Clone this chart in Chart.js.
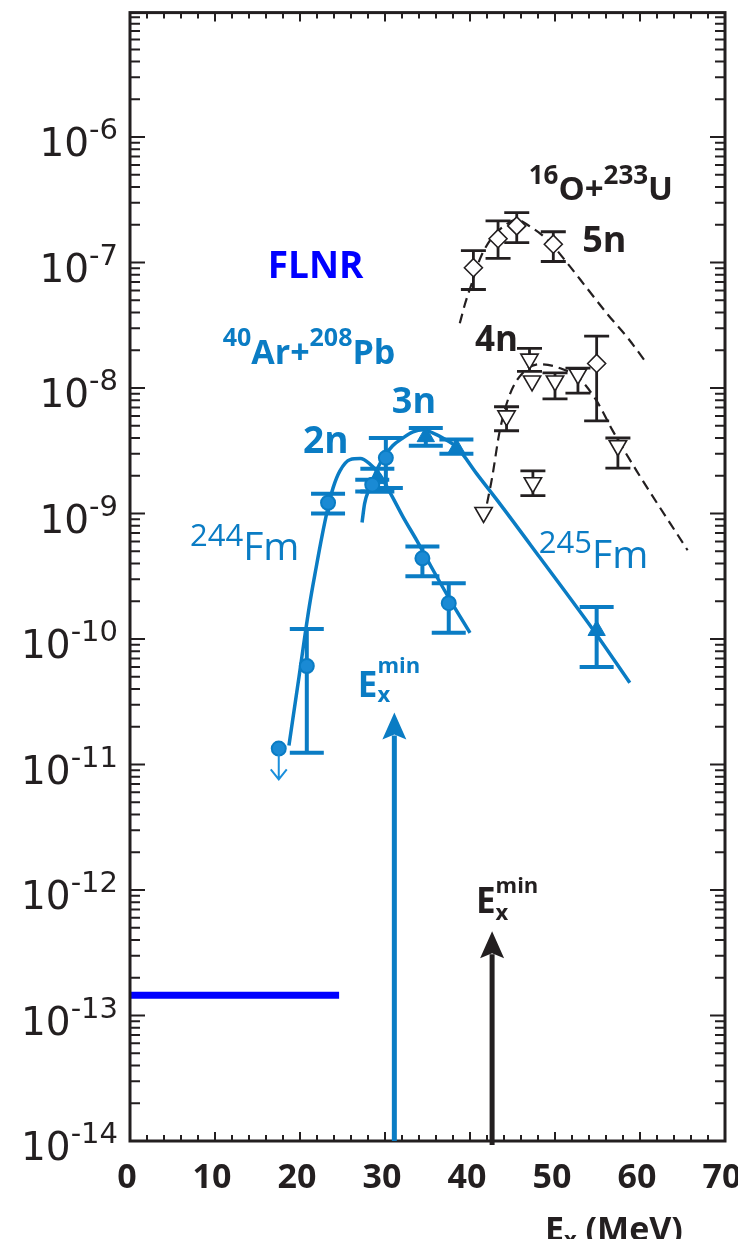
<!DOCTYPE html>
<html>
<head>
<meta charset="utf-8">
<script src="https://cdn.jsdelivr.net/npm/chart.js@4.4.1/dist/chart.umd.min.js"></script>
<style>
  html, body { margin: 0; padding: 0; background: #fff; }
  canvas { display: block; }
</style>
</head>
<body>
<canvas id="c" width="738" height="1247"></canvas>
<script>
const BLUE = "#0a7cc4";
const FLNR_BLUE = "#0000ff";
const BLACK = "#231f20";

// 40Ar+208Pb -> 244Fm (2n), measured points (first one is an upper limit)
const fm244X = [17.5, 20.8, 23.3, 28.5, 30.1, 34.4, 37.5];
const fm244Y = [1.34e-11, 6.1e-11, 1.22e-9, 1.7e-9, 2.78e-9, 4.4e-10, 1.93e-10];
const fm244Lo = [null, 1.24e-11, 1.0e-9, 1.5e-9, 1.6e-9, 3.16e-10, 1.12e-10];
const fm244Hi = [null, 1.2e-10, 1.44e-9, 1.86e-9, 4.0e-9, 5.47e-10, 2.78e-10];
const ulX = [17.5];
const ulTo = [7.6e-12];

// 40Ar+208Pb -> 245Fm (3n)
const fm245X = [29.1, 34.8, 38.4, 54.9];
const fm245Y = [1.9e-9, 4.1e-9, 3.3e-9, 1.17e-10];
const fm245Lo = [1.5e-9, 3.47e-9, 2.99e-9, 6.0e-11];
const fm245Hi = [2.28e-9, 4.8e-9, 3.9e-9, 1.8e-10];

// 16O+233U, 5n
const u5nX = [40.4, 43.3, 45.5, 49.8, 54.9];
const u5nY = [9.1e-8, 1.55e-7, 1.96e-7, 1.4e-7, 1.57e-8];
const u5nLo = [6.1e-8, 1.08e-7, 1.44e-7, 1.02e-7, 5.47e-9];
const u5nHi = [1.245e-7, 2.15e-7, 2.5e-7, 1.76e-7, 2.59e-8];

// 16O+233U, 4n
const u4nX = [41.6, 44.3, 47.0, 47.3, 47.4, 50.0, 52.7, 57.4];
const u4nY = [1.02e-9, 6.0e-9, 1.7e-8, 1.14e-8, 1.76e-9, 1.14e-8, 1.29e-8, 3.47e-9];
const u4nLo = [null, 4.57e-9, 1.36e-8, null, 1.39e-9, 8.2e-9, 9.1e-9, 2.3e-9];
const u4nHi = [null, 7.1e-9, 2.07e-8, null, 2.19e-9, 1.32e-8, 1.44e-8, 4.0e-9];

// fitted curves
const c244X = [18.7, 19.9, 21.1, 21.9, 22.6, 23.3, 23.9, 24.7, 25.9, 27.1, 28.2, 29.4, 30.6, 32.1, 33.8, 35.6, 37.6, 40.0];
const c244Y = [1.42e-11, 5.08e-11, 1.83e-10, 3.72e-10, 6.68e-10, 1.12e-9, 1.61e-9, 2.19e-9, 2.69e-9, 2.74e-9, 2.49e-9, 2.04e-9, 1.47e-9, 9.46e-10, 6.0e-10, 3.6e-10, 2.08e-10, 1.12e-10];
const c245X = [27.3, 27.6, 28.2, 29.1, 29.8, 30.9, 32.1, 33.3, 34.5, 35.6, 36.8, 38.5, 40.8, 43.5, 48.2, 54.5, 58.8];
const c245Y = [8.5e-10, 1.2e-9, 1.61e-9, 2.28e-9, 2.78e-9, 3.47e-9, 4.0e-9, 4.48e-9, 4.65e-9, 4.4e-9, 4.0e-9, 3.34e-9, 2.07e-9, 1.2e-9, 4.48e-10, 1.18e-10, 4.48e-11];
const c5nX = [38.8, 39.4, 40.2, 41.2, 42.4, 43.9, 45.5, 47.1, 49.1, 51.5, 53.8, 56.2, 58.6, 60.6];
const c5nY = [3.28e-8, 4.65e-8, 6.8e-8, 1.08e-7, 1.52e-7, 1.93e-7, 2.19e-7, 1.93e-7, 1.52e-7, 9.8e-8, 6.2e-8, 3.86e-8, 2.49e-8, 1.64e-8];
const c4nX = [42.0, 42.6, 43.5, 44.7, 46.2, 48.2, 50.6, 52.9, 54.9, 56.8, 59.6, 65.6];
const c4nY = [1.2e-9, 1.93e-9, 4.56e-9, 8.95e-9, 1.32e-8, 1.55e-8, 1.44e-8, 1.18e-8, 7.9e-9, 4.56e-9, 2.19e-9, 5.1e-10];

// FLNR sensitivity level
const flnrX = [0, 24.6];
const flnrY = [1.45e-13, 1.45e-13];

// Ex min arrows
const eminX = [31.1, 42.6];
const eminTip = [2.6e-11, 4.7e-13];
const eminColor = [BLUE, BLACK];

const xTickLabels = ["0", "10", "20", "30", "40", "50", "60", "70"];
const yDecades = [-6, -7, -8, -9, -10, -11, -12, -13, -14];

function pts(xs, ys) {
  return xs.map((x, i) => ({ x: x, y: ys[i] }));
}

const notes = [
  { x: 16.2, y: 7.6e-8, color: FLNR_BLUE, items: [{ t: "FLNR", s: 37 }] },
  { x: 10.9, y: 1.55e-8, color: BLUE, items: [{ t: "40", s: 25, dy: -18 }, { t: "Ar+", s: 34 }, { t: "208", s: 25, dy: -18 }, { t: "Pb", s: 34 }] },
  { x: 20.35, y: 3.05e-9, color: BLUE, items: [{ t: "2n", s: 37 }] },
  { x: 30.8, y: 6.34e-9, color: BLUE, items: [{ t: "3n", s: 36 }] },
  { x: 7.06, y: 4.23e-10, color: BLUE, items: [{ t: "244", s: 31, w: "normal", dy: -14 }, { t: "Fm", s: 39, w: "normal" }] },
  { x: 48.1, y: 3.66e-10, color: BLUE, items: [{ t: "245", s: 31, w: "normal", dy: -15 }, { t: "Fm", s: 39, w: "normal" }] },
  { x: 46.9, y: 3.16e-7, color: BLACK, items: [{ t: "16", s: 26, dy: -16 }, { t: "O+", s: 33 }, { t: "233", s: 26, dy: -16 }, { t: "U", s: 33 }] },
  { x: 53.2, y: 1.22e-7, color: BLACK, items: [{ t: "5n", s: 36 }] },
  { x: 40.6, y: 1.97e-8, color: BLACK, items: [{ t: "4n", s: 35 }] },
  { x: 26.8, y: 3.47e-11, color: BLUE, items: [{ t: "E", s: 35 }, { t: "x", s: 22, dy: 5, keep: true }, { t: "min", s: 22, dy: -24 }] },
  { x: 40.7, y: 6.56e-13, color: BLACK, items: [{ t: "E", s: 35 }, { t: "x", s: 22, dy: 7, keep: true }, { t: "min", s: 22, dy: -20 }] }
];

function drawRich(ctx, x, y, color, items) {
  ctx.save();
  ctx.fillStyle = color;
  ctx.textAlign = "left";
  ctx.textBaseline = "alphabetic";
  let cx = x;
  items.forEach(it => {
    ctx.font = (it.w || "bold") + " " + it.s + 'px "Open Sans"';
    ctx.fillText(it.t, cx, y + (it.dy || 0));
    if (!it.keep) cx += ctx.measureText(it.t).width;
  });
  ctx.restore();
}

function drawErrors(ctx, chart, xs, lo, hi, color, lw, cap) {
  const sx = chart.scales.x, sy = chart.scales.y;
  ctx.save();
  ctx.strokeStyle = color;
  ctx.lineWidth = lw;
  for (let i = 0; i < xs.length; i++) {
    if (lo[i] == null) continue;
    const x = sx.getPixelForValue(xs[i]);
    const y1 = sy.getPixelForValue(lo[i]);
    const y2 = sy.getPixelForValue(hi[i]);
    ctx.beginPath();
    ctx.moveTo(x, y1); ctx.lineTo(x, y2);
    ctx.moveTo(x - cap / 2, y1); ctx.lineTo(x + cap / 2, y1);
    ctx.moveTo(x - cap / 2, y2); ctx.lineTo(x + cap / 2, y2);
    ctx.stroke();
  }
  ctx.restore();
}

function drawArrow(ctx, x, yFrom, yTip, color) {
  const hl = 27, hw = 24;
  ctx.save();
  ctx.strokeStyle = color;
  ctx.fillStyle = color;
  ctx.lineWidth = 5;
  ctx.beginPath();
  ctx.moveTo(x, yFrom);
  ctx.lineTo(x, yTip + hl - 4);
  ctx.stroke();
  ctx.beginPath();
  ctx.moveTo(x, yTip);
  ctx.lineTo(x - hw / 2, yTip + hl);
  ctx.lineTo(x, yTip + hl - 5);
  ctx.lineTo(x + hw / 2, yTip + hl);
  ctx.closePath();
  ctx.fill();
  ctx.restore();
}

const overlay = {
  id: "overlay",
  beforeDatasetsDraw(chart) {
    const ctx = chart.ctx;
    drawErrors(ctx, chart, fm244X, fm244Lo, fm244Hi, BLUE, 4, 34);
    drawErrors(ctx, chart, fm245X, fm245Lo, fm245Hi, BLUE, 4, 34);
    drawErrors(ctx, chart, u5nX, u5nLo, u5nHi, BLACK, 2.8, 25);
    drawErrors(ctx, chart, u4nX, u4nLo, u4nHi, BLACK, 2.8, 25);
  },
  afterDraw(chart) {
    const ctx = chart.ctx;
    const a = chart.chartArea;
    const sx = chart.scales.x, sy = chart.scales.y;

    // upper limit arrow
    ctx.save();
    ctx.strokeStyle = "#1a8fdc";
    ctx.lineWidth = 2;
    ulX.forEach((v, i) => {
      const x = sx.getPixelForValue(v);
      const y0 = sy.getPixelForValue(fm244Y[i]) + 6;
      const y1 = sy.getPixelForValue(ulTo[i]);
      ctx.beginPath();
      ctx.moveTo(x, y0); ctx.lineTo(x, y1);
      ctx.moveTo(x - 8, y1 - 10); ctx.lineTo(x, y1); ctx.lineTo(x + 8, y1 - 10);
      ctx.stroke();
    });
    ctx.restore();

    // axes frame
    ctx.save();
    ctx.strokeStyle = BLACK;
    ctx.lineWidth = 3;
    ctx.strokeRect(a.left, a.top + 1, a.right - a.left, a.bottom - a.top - 1);
    ctx.lineWidth = 2;
    ctx.beginPath();
    for (let v = 0; v <= 70; v += 2) {
      const x = sx.getPixelForValue(v);
      const len = v % 10 === 0 ? 9 : 6;
      ctx.moveTo(x, a.bottom); ctx.lineTo(x, a.bottom - len);
      ctx.moveTo(x, a.top + 1); ctx.lineTo(x, a.top + 1 + len);
    }
    for (let e = -14; e < -5; e++) {
      for (let m = 1; m <= 9; m++) {
        const y = sy.getPixelForValue(m * Math.pow(10, e));
        const len = m === 1 ? 15 : 10;
        ctx.moveTo(a.left, y); ctx.lineTo(a.left + len, y);
        ctx.moveTo(a.right, y); ctx.lineTo(a.right - len, y);
      }
    }
    ctx.stroke();
    ctx.restore();

    // arrows for Ex min
    eminX.forEach((v, i) => {
      const x = sx.getPixelForValue(v);
      drawArrow(ctx, x, a.bottom + (i === 1 ? 4 : 0), sy.getPixelForValue(eminTip[i]), eminColor[i]);
    });

    // tick labels
    ctx.save();
    ctx.fillStyle = BLACK;
    ctx.textBaseline = "alphabetic";
    ctx.font = 'bold 34px "Open Sans"';
    ctx.textAlign = "center";
    xTickLabels.forEach(t => {
      ctx.fillText(t, sx.getPixelForValue(Number(t)) - 3, 1188);
    });
    yDecades.forEach(e => {
      const y = sy.getPixelForValue(Math.pow(10, e));
      ctx.textAlign = "right";
      ctx.font = '29px "DejaVu Sans"';
      const sup = "-" + (-e);
      const w = ctx.measureText(sup).width;
      ctx.fillText(sup, 118, y + 2);
      ctx.font = '39px "DejaVu Sans"';
      ctx.fillText("10", 118 - w, y + 19);
    });
    ctx.restore();

    // axis title, cut by the bottom of the picture
    ctx.save();
    ctx.beginPath();
    ctx.rect(0, 0, 738, 1239);
    ctx.clip();
    drawRich(ctx, 545, 1241, BLACK, [{ t: "E", s: 34 }, { t: "x", s: 22, dy: 6 }, { t: " (MeV)", s: 34 }]);
    ctx.restore();

    // annotations
    notes.forEach(n => {
      drawRich(ctx, sx.getPixelForValue(n.x), sy.getPixelForValue(n.y), n.color, n.items);
    });
  }
};

new Chart(document.getElementById("c"), {
  type: "scatter",
  data: {
    datasets: [
      {
        data: pts(fm244X, fm244Y),
        pointStyle: "circle", pointRadius: 7,
        backgroundColor: "#1a8ad4", borderColor: BLUE, borderWidth: 2
      },
      {
        data: pts(fm245X, fm245Y),
        pointStyle: "triangle", pointRadius: 10,
        backgroundColor: BLUE, borderColor: BLUE, borderWidth: 1
      },
      {
        data: pts(u5nX, u5nY),
        pointStyle: "rectRot", pointRadius: 9,
        backgroundColor: "#ffffff", borderColor: BLACK, borderWidth: 1.6
      },
      {
        data: pts(u4nX, u4nY),
        pointStyle: "triangle", pointRadius: 10, rotation: 180,
        backgroundColor: "#ffffff", borderColor: BLACK, borderWidth: 1.6
      },
      {
        data: pts(c244X, c244Y), showLine: true, pointRadius: 0,
        borderColor: BLUE, borderWidth: 3.5, cubicInterpolationMode: "monotone"
      },
      {
        data: pts(c245X, c245Y), showLine: true, pointRadius: 0,
        borderColor: BLUE, borderWidth: 3.5, cubicInterpolationMode: "monotone"
      },
      {
        data: pts(c5nX, c5nY), showLine: true, pointRadius: 0,
        borderColor: BLACK, borderWidth: 2.2, borderDash: [10, 6], cubicInterpolationMode: "monotone"
      },
      {
        data: pts(c4nX, c4nY), showLine: true, pointRadius: 0,
        borderColor: BLACK, borderWidth: 2.2, borderDash: [10, 6], cubicInterpolationMode: "monotone"
      },
      {
        data: pts(flnrX, flnrY), showLine: true, pointRadius: 0,
        borderColor: FLNR_BLUE, borderWidth: 7
      }
    ]
  },
  options: {
    responsive: false,
    animation: false,
    devicePixelRatio: 1,
    layout: { padding: { left: 130, right: 13, top: 9, bottom: 106 } },
    plugins: { legend: { display: false }, tooltip: { enabled: false } },
    scales: {
      x: { type: "linear", min: 0, max: 70, display: false },
      y: { type: "logarithmic", min: 1e-14, max: 1e-5, display: false }
    }
  },
  plugins: [overlay]
});
</script>
</body>
</html>
